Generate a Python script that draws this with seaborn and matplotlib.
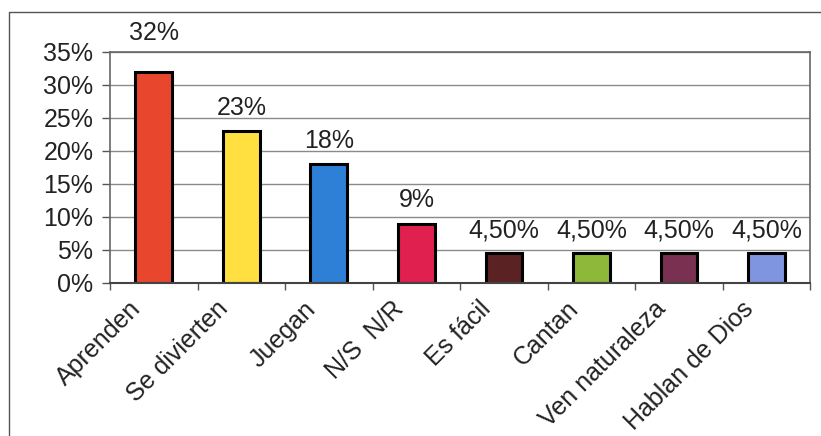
import pandas as pd
import matplotlib.pyplot as plt
import seaborn as sns

# data
categorias = ['Aprenden', 'Se divierten', 'Juegan', 'N/S  N/R', 'Es fácil',
              'Cantan', 'Ven naturaleza', 'Hablan de Dios']
valores = [32, 23, 18, 9, 4.5, 4.5, 4.5, 4.5]
etiquetas = ['32%', '23%', '18%', '9%', '4,50%', '4,50%', '4,50%', '4,50%']
colores = ['#E8472E', '#FFE040', '#2E7FD6', '#E0204F', '#5A2222',
           '#8DB83A', '#7A3050', '#7F95E0']

df = pd.DataFrame({'cat': categorias, 'val': valores})

sns.set_style('white')
plt.rcParams['font.family'] = ['Liberation Sans', 'DejaVu Sans']

fig = plt.figure(figsize=(8.21, 4.36), dpi=100)
ax = fig.add_axes([0.134, 0.351, 0.853, 0.530])

sns.barplot(data=df, x='cat', y='val', hue='cat', palette=colores, legend=False,
            width=0.42, edgecolor='black', linewidth=2.2, saturation=1, ax=ax)

# value labels above bars (the tallest one is pushed up past the frame, as Excel did)
for i, (v, t) in enumerate(zip(valores, etiquetas)):
    off = 19 if v == max(valores) else 8
    ax.annotate(t, (i, v), xytext=(0, off), textcoords='offset points',
                ha='center', va='bottom', fontsize=18, color='#222222',
                annotation_clip=False)

# rotated category labels
for i, c in enumerate(categorias):
    ax.annotate(c, (i, 0), xytext=(-12, -16), textcoords='offset points',
                rotation=45, ha='right', va='center', rotation_mode='anchor',
                fontsize=18, color='#222222', annotation_clip=False)

ax.set_ylim(0, 35)
ax.set_xlim(-0.5, len(categorias) - 0.5)
ax.set_yticks(range(0, 36, 5))
ax.set_yticklabels([f'{t}%' for t in range(0, 36, 5)], fontsize=18, color='#222222')
ax.set_xticks([i + 0.5 for i in range(-1, len(categorias))])
ax.set_xticklabels([])
ax.tick_params(axis='x', length=5, width=1, color='#555555', bottom=True)
ax.tick_params(axis='y', length=6, width=1, color='#555555', direction='out', left=True, pad=6)
ax.set_xlabel('')
ax.set_ylabel('')

ax.yaxis.grid(True, color='#8a8a8a', linewidth=1)
ax.xaxis.grid(False)
ax.set_axisbelow(True)
for s in ax.spines.values():
    s.set_visible(True)
    s.set_color('#666666')
    s.set_linewidth(1.2)
ax.spines['bottom'].set_color('#444444')
ax.spines['bottom'].set_linewidth(1.5)

# outer chart frame
fig.add_artist(plt.Line2D([0.011, 0.011], [0.0, 0.972], color='#555555', lw=1))
fig.add_artist(plt.Line2D([0.011, 1.0], [0.972, 0.972], color='#555555', lw=1))

fig.savefig('out.png', dpi=100)
